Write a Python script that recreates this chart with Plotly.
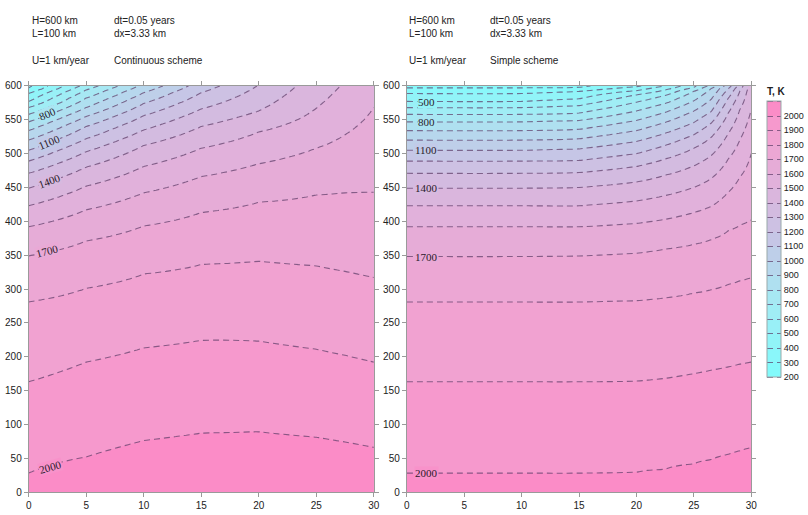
import numpy as np
import plotly.graph_objects as go
from plotly.colors import sample_colorscale

nan = float("nan")
W, H = 808, 515

# contour levels (K)
levels = [300, 400, 500, 600, 700, 800, 900, 1000, 1100, 1200,
          1300, 1400, 1500, 1600, 1700, 1800, 1900, 2000]
cbar_ticks = [200, 300, 400, 500, 600, 700, 800, 900, 1000, 1100,
              1200, 1300, 1400, 1500, 1600, 1700, 1800, 1900, 2000]

# ---------------- Continuous scheme (left) ----------------
left_x = [0, 5, 10, 15, 20, 25, 27.5, 30]
left_top_T = [280, 640, 925, 1150, 1305, 1450, 1510, 1560]
left_bottom_T = [2060, 2060, 2060, 2060, 2060, 2060, 2060, 2060]
# height (km) of each isotherm at each x column (nan = above surface)
left_iso = [
    [597, nan, nan, nan, nan, nan, nan, nan],   # 300
    [589, nan, nan, nan, nan, nan, nan, nan],   # 400
    [577, nan, nan, nan, nan, nan, nan, nan],   # 500
    [568, nan, nan, nan, nan, nan, nan, nan],   # 600
    [558, 594, nan, nan, nan, nan, nan, nan],   # 700
    [547, 582, nan, nan, nan, nan, nan, nan],   # 800
    [534, 568, nan, nan, nan, nan, nan, nan],   # 900
    [520, 555, 590, nan, nan, nan, nan, nan],   # 1000
    [505, 540, 574, nan, nan, nan, nan, nan],   # 1100
    [489, 522, 556, 590, nan, nan, nan, nan],   # 1200
    [471, 503, 535, 566, nan, nan, nan, nan],   # 1300
    [449, 480, 512, 540, 563, nan, nan, nan],   # 1400
    [423, 452, 481, 508, 532, 567, nan, nan],   # 1500
    [392, 417, 442, 466, 485, 508, 528, 568],   # 1600
    [349, 371, 393, 413, 428, 439, 442, 443],   # 1700
    [281, 301, 322, 336, 341, 334, 326, 317],   # 1800
    [163, 192, 213, 224, 223, 211, 202, 192],   # 1900
    [28, 52, 76, 87, 89, 81, 74, 66],           # 2000
]
left_labels = [(800, 1.6), (1100, 1.8), (1400, 1.8), (1700, 1.6), (2000, 1.9)]

# ---------------- Simple scheme (right) ----------------
right_x = [0, 10, 15, 20, 22.5, 25, 26.5, 28, 29, 30]
right_top_T = [275, 275, 280, 380, 500, 680, 830, 1050, 1240, 1450]
right_bottom_T = [2060] * 10
right_iso = [
    [597, 597, 598, nan, nan, nan, nan, nan, nan, nan],   # 300
    [589, 589, 592, 599, nan, nan, nan, nan, nan, nan],   # 400
    [577, 577, 581, 593, nan, nan, nan, nan, nan, nan],   # 500
    [568, 568, 571, 587, 594, nan, nan, nan, nan, nan],   # 600
    [558, 558, 560, 576, 586, 598, nan, nan, nan, nan],   # 700
    [547, 547, 549, 563, 574, 592, nan, nan, nan, nan],   # 800
    [534, 534, 536, 549, 561, 578, 596, nan, nan, nan],   # 900
    [520, 520, 522, 534, 546, 563, 580, nan, nan, nan],   # 1000
    [505, 505, 507, 518, 530, 546, 562, 596, nan, nan],   # 1100
    [489, 489, 490, 500, 512, 528, 545, 582, nan, nan],   # 1200
    [471, 471, 472, 481, 492, 508, 524, 560, 592, nan],   # 1300
    [449, 449, 450, 458, 468, 482, 497, 530, 565, nan],   # 1400
    [423, 423, 423, 430, 438, 450, 463, 492, 520, 565],   # 1500
    [392, 392, 392, 397, 403, 413, 422, 443, 465, 500],   # 1600
    [348, 348, 349, 353, 359, 366, 373, 386, 394, 402],   # 1700
    [281, 281, 281, 283, 287, 294, 299, 307, 312, 317],   # 1800
    [163, 163, 163, 164, 168, 175, 180, 185, 189, 192],   # 1900
    [28, 28, 28, 29, 34, 42, 48, 56, 61, 66],             # 2000
]
right_labels = [(500, 1.7), (800, 1.7), (1100, 1.7), (1400, 1.7), (1700, 1.7), (2000, 1.7)]

colorscale = [
    [0.00, "#7ffcfc"],
    [0.28, "#a6eaf4"],
    [0.50, "#c6c6e6"],
    [0.72, "#e2b0da"],
    [0.89, "#f3a0d0"],
    [1.00, "#fd86c4"],
]
ZMIN, ZMAX = 200, 2100

y_grid = np.arange(0, 601, 2.0)


def build_field(xs, iso, top_T, bot_T):
    z = np.zeros((len(y_grid), len(xs)))
    for j in range(len(xs)):
        ys = [0.0]
        ts = [bot_T[j]]
        for k, lev in enumerate(levels):
            v = iso[k][j]
            if not np.isnan(v):
                ys.append(v)
                ts.append(lev)
        ys.append(600.0)
        ts.append(top_T[j])
        order = np.argsort(ys)
        z[:, j] = np.interp(y_grid, np.array(ys)[order], np.array(ts)[order])
    return z


zl = build_field(left_x, left_iso, left_top_T, left_bottom_T)
zr = build_field(right_x, right_iso, right_top_T, right_bottom_T)

# plot-area geometry (pixels)
L0, L1 = 26, 375
R0, R1 = 408.3, 756.7
T0, B0 = 82.7, 497.7

fig = go.Figure()
line_style = dict(color="rgba(95,62,105,0.72)", width=1.1, dash="6px,4px")
common = dict(
    y=y_grid, colorscale=colorscale, zmin=ZMIN, zmax=ZMAX, zauto=False,
    contours=dict(start=200, end=2100, size=100, coloring="fill", showlines=True),
    line=line_style, hoverinfo="skip",
)
fig.add_trace(go.Contour(x=left_x, z=zl, xaxis="x", yaxis="y", showscale=False, **common))
fig.add_trace(go.Contour(
    x=right_x, z=zr, xaxis="x2", yaxis="y2", showscale=True,
    colorbar=dict(
        x=773 / W, xanchor="left", y=1 - 380 / H, yanchor="bottom",
        len=(380 - 82) / H, lenmode="fraction", thickness=14, xpad=0, ypad=0,
        outlinecolor="#9aa", outlinewidth=1,
        tickmode="array", tickvals=cbar_ticks, ticks="", ticklen=0,
        tickfont=dict(family="Liberation Sans, Arial", size=9, color="#222"),
        title=dict(text="<b>T, K</b>", side="top",
                   font=dict(family="Liberation Sans, Arial", size=10, color="#222")),
    ),
    **common))

axis_common = dict(
    showgrid=False, zeroline=False, showline=True, linecolor="#9a9a9a", linewidth=1,
    mirror="ticks", ticks="outside", ticklen=4, tickcolor="#9a9a9a",
    tickfont=dict(family="Liberation Sans, Arial", size=10, color="#222"),
)
ydom = [1 - B0 / H, 1 - T0 / H]
fig.update_layout(
    width=W, height=H, margin=dict(l=0, r=0, t=0, b=0),
    paper_bgcolor="white", plot_bgcolor="white", showlegend=False,
    xaxis=dict(domain=[L0 / W, L1 / W], range=[0, 30], tick0=0, dtick=5, anchor="y", **axis_common),
    yaxis=dict(domain=ydom, range=[0, 600], tick0=0, dtick=50, anchor="x", **axis_common),
    xaxis2=dict(domain=[R0 / W, R1 / W], range=[0, 30], tick0=0, dtick=5, anchor="y2", **axis_common),
    yaxis2=dict(domain=ydom, range=[0, 600], tick0=0, dtick=50, anchor="x2", **axis_common),
)

# header texts
hdr_font = dict(family="Liberation Sans, Arial", size=10, color="#222")
headers = [
    (27, 16, "H=600 km"), (27, 29, "L=100 km"), (27, 57, "U=1 km/year"),
    (110, 16, "dt=0.05 years"), (110, 29, "dx=3.33 km"), (110, 57, "Continuous scheme"),
    (409, 16, "H=600 km"), (409, 29, "L=100 km"), (409, 57, "U=1 km/year"),
    (490, 16, "dt=0.05 years"), (490, 29, "dx=3.33 km"), (490, 57, "Simple scheme"),
]
for xp, yp, t in headers:
    fig.add_annotation(x=xp / W, y=1 - yp / H, xref="paper", yref="paper", text=t,
                       showarrow=False, xanchor="left", yanchor="middle", font=hdr_font)


# contour labels, placed on the isotherm using the data
def add_labels(xs, iso, labels, xa, ya, x0px, x1px):
    pxu = (x1px - x0px) / 30.0
    pyu = (B0 - T0) / 600.0
    for lev, xl in labels:
        k = levels.index(lev)
        ycol = np.array(iso[k], dtype=float)
        ok = ~np.isnan(ycol)
        xx = np.array(xs)[ok]
        yv = ycol[ok]
        yl = float(np.interp(xl, xx, yv))
        slope = (yv[1] - yv[0]) / (xx[1] - xx[0])
        ang = -np.degrees(np.arctan2(slope * pyu, pxu))
        bg = sample_colorscale(colorscale, [(lev - ZMIN) / (ZMAX - ZMIN)])[0]
        fig.add_annotation(x=xl, y=yl, xref=xa, yref=ya, text=str(lev), showarrow=False,
                           textangle=ang, bgcolor=bg, borderpad=0,
                           font=dict(family="Liberation Serif, Times New Roman", size=11, color="#2a1a2a"))


add_labels(left_x, left_iso, left_labels, "x", "y", L0, L1)
add_labels(right_x, right_iso, right_labels, "x2", "y2", R0, R1)

fig.write_html("out.html")
